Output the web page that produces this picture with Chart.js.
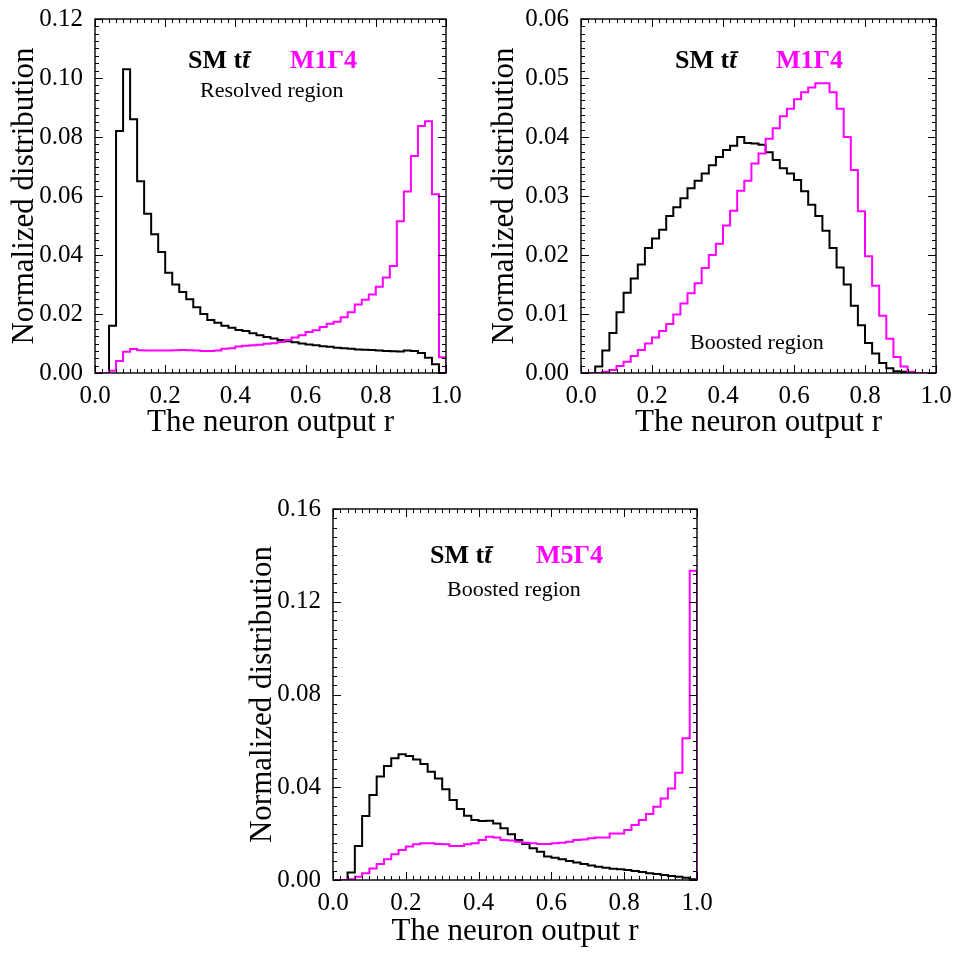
<!DOCTYPE html>
<html><head><meta charset="utf-8">
<script src="https://cdn.jsdelivr.net/npm/chart.js@4.4.1/dist/chart.umd.min.js"></script>
<style>
html,body{margin:0;padding:0;background:#fff;width:959px;height:953px;overflow:hidden}
canvas{position:absolute}
</style></head><body>
<canvas id="c1" width="480" height="450" style="left:0px;top:0px"></canvas>
<canvas id="c2" width="479" height="450" style="left:480px;top:0px"></canvas>
<canvas id="c3" width="480" height="473" style="left:240px;top:480px"></canvas>
<script>
// ---------- data ----------
const binEdges = [0.00,0.02,0.04,0.06,0.08,0.10,0.12,0.14,0.16,0.18,
  0.20,0.22,0.24,0.26,0.28,0.30,0.32,0.34,0.36,0.38,
  0.40,0.42,0.44,0.46,0.48,0.50,0.52,0.54,0.56,0.58,
  0.60,0.62,0.64,0.66,0.68,0.70,0.72,0.74,0.76,0.78,
  0.80,0.82,0.84,0.86,0.88,0.90,0.92,0.94,0.96,0.98,1.00];

const xTickValues = [0.0, 0.2, 0.4, 0.6, 0.8, 1.0];
const yTicksResolved = [0.00, 0.02, 0.04, 0.06, 0.08, 0.10, 0.12];
const yTicksBoostedM1 = [0.00, 0.01, 0.02, 0.03, 0.04, 0.05, 0.06];
const yTicksBoostedM5 = [0.00, 0.04, 0.08, 0.12, 0.16];

// Panel 1: resolved region, SM ttbar vs M1Γ4
const smResolved = [0, 0, 0.016, 0.082, 0.103, 0.086, 0.065, 0.054, 0.047, 0.041,
  0.034, 0.030, 0.0275, 0.025, 0.0223, 0.020, 0.018, 0.017, 0.016, 0.0153,
  0.0146, 0.0142, 0.0135, 0.0128, 0.0122, 0.0117, 0.0112, 0.0108, 0.0104, 0.0100,
  0.0097, 0.0094, 0.0091, 0.0089, 0.0086, 0.0084, 0.0082, 0.0080, 0.0079, 0.0078,
  0.0076, 0.0075, 0.0074, 0.0073, 0.0076, 0.0075, 0.0068, 0.0052, 0.0030, 0.0];
const m1Resolved = [0, 0, 0.0008, 0.0041, 0.0072, 0.0081, 0.0077, 0.0076, 0.0076, 0.0076,
  0.0076, 0.0077, 0.0078, 0.0077, 0.0076, 0.0075, 0.0075, 0.0076, 0.0082, 0.0084,
  0.0090, 0.0092, 0.0094, 0.0096, 0.0099, 0.0101, 0.0105, 0.0112, 0.0120, 0.0128,
  0.0139, 0.0145, 0.0156, 0.0167, 0.0174, 0.0189, 0.0206, 0.0232, 0.0248, 0.0266,
  0.0292, 0.0324, 0.0363, 0.0514, 0.0615, 0.0736, 0.0837, 0.0853, 0.0606, 0.0053];

// Panel 2: boosted region, SM ttbar vs M1Γ4
const smBoosted = [0, 0, 0.0011, 0.0038, 0.0068, 0.0103, 0.0136, 0.0160, 0.0184, 0.0212,
  0.0228, 0.0243, 0.0266, 0.0281, 0.0296, 0.0313, 0.0326, 0.0338, 0.0352, 0.0366,
  0.0378, 0.0385, 0.0400, 0.0390, 0.0389, 0.0387, 0.0374, 0.0361, 0.0347, 0.0338,
  0.0327, 0.0308, 0.0285, 0.0266, 0.0241, 0.0212, 0.0179, 0.0150, 0.0114, 0.0081,
  0.0051, 0.0033, 0.0017, 0.0008, 0.0003, 0.0002, 0.0001, 0, 0, 0];
const m1Boosted = [0, 0, 0, 0.0002, 0.0005, 0.0012, 0.0019, 0.0029, 0.0039, 0.0050,
  0.0060, 0.0071, 0.0083, 0.0099, 0.0118, 0.0135, 0.0152, 0.0178, 0.0200, 0.0219,
  0.0250, 0.0275, 0.0309, 0.0326, 0.0355, 0.0372, 0.0397, 0.0415, 0.0435, 0.0448,
  0.0464, 0.0476, 0.0484, 0.0491, 0.0491, 0.0476, 0.0448, 0.0400, 0.0344, 0.0274,
  0.0198, 0.0148, 0.0097, 0.0058, 0.0027, 0.0011, 0.0002, 0, 0, 0];

// Panel 3: boosted region, SM ttbar vs M5Γ4
const smBoosted5 = [0, 0, 0.0032, 0.0147, 0.0276, 0.0367, 0.0446, 0.0492, 0.0525, 0.0542,
  0.0535, 0.0520, 0.0500, 0.0467, 0.0438, 0.0391, 0.0345, 0.0306, 0.0277, 0.0259,
  0.0254, 0.0256, 0.0244, 0.0223, 0.0197, 0.0173, 0.0155, 0.0137, 0.0122, 0.0101,
  0.0096, 0.0089, 0.0082, 0.0075, 0.0069, 0.0062, 0.0057, 0.0053, 0.0049, 0.0046,
  0.0043, 0.0039, 0.0035, 0.0029, 0.0026, 0.0022, 0.0017, 0.0014, 0.0010, 0.0003];
const m5Boosted = [0, 0, 0.0003, 0.0014, 0.0029, 0.0050, 0.0069, 0.0089, 0.0111, 0.0129,
  0.0144, 0.0154, 0.0158, 0.0158, 0.0155, 0.0154, 0.0147, 0.0147, 0.0154, 0.0158,
  0.0173, 0.0187, 0.0183, 0.0172, 0.0170, 0.0165, 0.0161, 0.0158, 0.0155, 0.0155,
  0.0158, 0.0161, 0.0165, 0.0173, 0.0175, 0.0180, 0.0183, 0.0183, 0.0201, 0.0201,
  0.0216, 0.0237, 0.0259, 0.0285, 0.0316, 0.0352, 0.0395, 0.0463, 0.0611, 0.1334];

const xTitle = 'The neuron output r';
const yTitle = 'Normalized distribution';

// ---------- drawing ----------
const SERIF = '"Liberation Serif", "Times New Roman", serif';
const BLACK = '#000000';
const MAGENTA = '#ff00ff';

function histPoints(values) {
  const pts = [{x: binEdges[0], y: 0}];
  values.forEach((v, i) => pts.push({x: binEdges[i], y: v}));
  pts.push({x: binEdges[binEdges.length - 1], y: 0});
  return pts;
}

function decoPlugin(p) {
  return {
    id: 'deco',
    afterDraw(chart) {
      const ctx = chart.ctx, a = chart.chartArea;
      const xs = chart.scales.x, ys = chart.scales.y;
      ctx.save();
      ctx.strokeStyle = BLACK;
      ctx.lineWidth = 1;
      ctx.beginPath();
      const nx = Math.round((xs.max - xs.min) / p.xMinor);
      for (let i = 0; i <= nx; i++) {
        const v = xs.min + i * p.xMinor;
        const major = xTickValues.some(t => Math.abs(t - v) < 1e-9);
        const L = major ? 8 : 4;
        const px = Math.round(xs.getPixelForValue(v)) + 0.5;
        ctx.moveTo(px, a.bottom); ctx.lineTo(px, a.bottom - L);
        ctx.moveTo(px, a.top); ctx.lineTo(px, a.top + L);
      }
      const ny = Math.round((ys.max - ys.min) / p.yMinor);
      for (let i = 0; i <= ny; i++) {
        const v = ys.min + i * p.yMinor;
        const major = p.yTicks.some(t => Math.abs(t - v) < 1e-9);
        const L = major ? 8 : 4;
        const py = Math.round(ys.getPixelForValue(v)) + 0.5;
        ctx.moveTo(a.left, py); ctx.lineTo(a.left + L, py);
        ctx.moveTo(a.right, py); ctx.lineTo(a.right - L, py);
      }
      ctx.stroke();
      ctx.lineWidth = 1.4;
      ctx.strokeRect(a.left, a.top, a.right - a.left, a.bottom - a.top);

      ctx.fillStyle = BLACK;
      ctx.textBaseline = 'alphabetic';
      ctx.textAlign = 'left';
      ctx.font = 'bold 26px ' + SERIF;
      ctx.fillText('SM t', p.sm[0], p.sm[1]);
      const w = ctx.measureText('SM t').width;
      ctx.font = 'italic bold 26px ' + SERIF;
      ctx.fillText('t\u0304', p.sm[0] + w, p.sm[1]);
      ctx.fillStyle = MAGENTA;
      ctx.font = 'bold 26px ' + SERIF;
      ctx.fillText(p.sigLabel, p.sig[0], p.sig[1]);
      ctx.fillStyle = BLACK;
      ctx.font = '22px ' + SERIF;
      ctx.fillText(p.region, p.reg[0], p.reg[1]);

      ctx.font = '31px ' + SERIF;
      ctx.textAlign = 'center';
      ctx.fillText(xTitle, (a.left + a.right) / 2 + p.xTitleDx, a.bottom + p.xTitleDy);
      ctx.translate(p.yTitleX, (a.top + a.bottom) / 2);
      ctx.rotate(-Math.PI / 2);
      ctx.textBaseline = 'middle';
      ctx.fillText(yTitle, 0, 0);
      ctx.restore();
    }
  };
}

function makePanel(id, W, H, area, smVals, sigVals, yTicks, yDec, p) {
  p.yTicks = yTicks;
  const tickFont = {family: SERIF, size: 25};
  new Chart(document.getElementById(id), {
    type: 'line',
    data: {
      datasets: [
        {data: histPoints(sigVals), borderColor: MAGENTA, order: 0},
        {data: histPoints(smVals), borderColor: BLACK, order: 1}
      ].map(d => Object.assign(d, {borderWidth: 2, pointRadius: 0, stepped: 'before',
        fill: false, tension: 0, borderJoinStyle: 'miter', borderCapStyle: 'butt'}))
    },
    options: {
      responsive: false, animation: false, devicePixelRatio: 1,
      layout: {padding: {top: area.top, right: W - area.right, left: 0, bottom: 0}},
      plugins: {legend: {display: false}, tooltip: {enabled: false}},
      scales: {
        x: {
          type: 'linear', min: 0, max: 1,
          grid: {display: false}, border: {display: false},
          afterBuildTicks: s => { s.ticks = xTickValues.map(v => ({value: v})); },
          afterFit: s => { s.height = H - area.bottom; },
          ticks: {font: tickFont, color: BLACK, padding: 0, maxRotation: 0, autoSkip: false,
            callback: v => Number(v).toFixed(1)}
        },
        y: {
          type: 'linear', min: yTicks[0], max: yTicks[yTicks.length - 1],
          grid: {display: false}, border: {display: false},
          afterBuildTicks: s => { s.ticks = yTicks.map(v => ({value: v})); },
          afterFit: s => { s.width = area.left; },
          ticks: {font: tickFont, color: BLACK, padding: 4, autoSkip: false,
            callback: v => Number(v).toFixed(yDec)}
        }
      }
    },
    plugins: [decoPlugin(p)]
  });
}

makePanel('c1', 480, 450, {left: 95, top: 16, right: 446, bottom: 373},
  smResolved, m1Resolved, yTicksResolved, 2,
  {xMinor: 0.02, yMinor: 0.0025, sm: [188, 68], sig: [290, 68], sigLabel: 'M1\u03934',
   reg: [200, 97], region: 'Resolved region', xTitleDx: 0, xTitleDy: 58, yTitleX: 25});

makePanel('c2', 479, 450, {left: 101, top: 16, right: 456, bottom: 373},
  smBoosted, m1Boosted, yTicksBoostedM1, 2,
  {xMinor: 0.02, yMinor: 0.00125, sm: [195, 68], sig: [296, 68], sigLabel: 'M1\u03934',
   reg: [210, 349], region: 'Boosted region', xTitleDx: 0, xTitleDy: 58, yTitleX: 25});

makePanel('c3', 480, 473, {left: 93, top: 29, right: 457, bottom: 400},
  smBoosted5, m5Boosted, yTicksBoostedM5, 2,
  {xMinor: 0.02, yMinor: 0.004, sm: [190, 83], sig: [296, 83], sigLabel: 'M5\u03934',
   reg: [207, 116], region: 'Boosted region', xTitleDx: 0, xTitleDy: 60, yTitleX: 23});
</script>
</body></html>
